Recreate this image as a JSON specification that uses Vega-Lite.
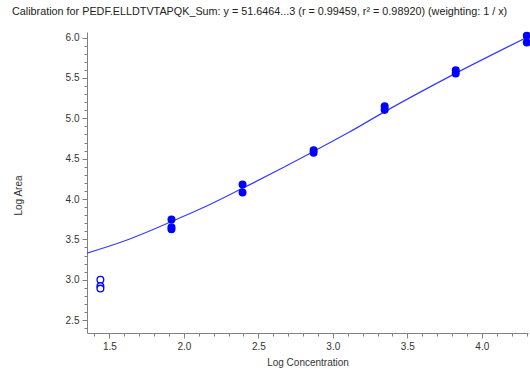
{
  "$schema": "https://vega.github.io/schema/vega-lite/v6.json",
  "width": 441,
  "height": 301,
  "autosize": {"type": "none"},
  "padding": {"left": 87, "top": 32, "right": 2, "bottom": 36},
  "background": "white",
  "config": {
    "view": {"stroke": null},
    "font": "Liberation Sans",
    "axis": {
      "domainColor": "#808080",
      "tickColor": "#808080",
      "labelColor": "#333333",
      "titleColor": "#333333",
      "labelFont": "Liberation Sans",
      "titleFont": "Liberation Sans",
      "labelFontSize": 10,
      "titleFontSize": 10,
      "titleFontWeight": "normal",
      "grid": false,
      "labelOverlap": false,
      "labelFlush": false,
      "tickCount": 1000
    }
  },
  "title": {
    "text": "Calibration for PEDF.ELLDTVTAPQK_Sum: y = 51.6464...3 (r = 0.99459, r² = 0.98920)  (weighting: 1 / x)",
    "anchor": "start",
    "frame": "group",
    "dx": -75,
    "offset": 13,
    "fontSize": 10.8,
    "fontWeight": "normal",
    "font": "Liberation Sans",
    "color": "#222222"
  },
  "datasets": {
    "curve": [
      {"x": 1.35, "y": 3.33},
      {"x": 1.6, "y": 3.48},
      {"x": 1.916, "y": 3.72},
      {"x": 2.12, "y": 3.885},
      {"x": 2.39, "y": 4.13},
      {"x": 2.871, "y": 4.59},
      {"x": 3.111, "y": 4.83},
      {"x": 3.346, "y": 5.08},
      {"x": 3.827, "y": 5.56},
      {"x": 4.31, "y": 6.01}
    ],
    "points": [
      {"x": 1.44, "y": 3.0, "status": "excluded"},
      {"x": 1.44, "y": 2.92, "status": "excluded"},
      {"x": 1.44, "y": 2.89, "status": "excluded"},
      {"x": 1.917, "y": 3.745, "status": "used"},
      {"x": 1.917, "y": 3.65, "status": "used"},
      {"x": 1.917, "y": 3.625, "status": "used"},
      {"x": 2.394, "y": 4.18, "status": "used"},
      {"x": 2.394, "y": 4.08, "status": "used"},
      {"x": 2.871, "y": 4.605, "status": "used"},
      {"x": 2.871, "y": 4.575, "status": "used"},
      {"x": 3.348, "y": 5.15, "status": "used"},
      {"x": 3.348, "y": 5.105, "status": "used"},
      {"x": 3.825, "y": 5.595, "status": "used"},
      {"x": 3.825, "y": 5.555, "status": "used"},
      {"x": 4.302, "y": 6.025, "status": "used"},
      {"x": 4.302, "y": 5.94, "status": "used"}
    ]
  },
  "layer": [
    {
      "data": {"name": "curve"},
      "mark": {"type": "line", "color": "#3a3aff", "strokeWidth": 1.2, "interpolate": "monotone", "clip": true},
      "encoding": {
        "x": {
          "field": "x", "type": "quantitative",
          "scale": {"domain": [1.35, 4.31], "nice": false, "zero": false},
          "axis": {
            "title": "Log Concentration",
            "values": [1.4,1.5,1.6,1.7,1.8,1.9,2.0,2.1,2.2,2.3,2.4,2.5,2.6,2.7,2.8,2.9,3.0,3.1,3.2,3.3,3.4,3.5,3.6,3.7,3.8,3.9,4.0,4.1,4.2,4.3],
            "tickCount": 1000,
            "labelExpr": "abs(datum.value*2 - round(datum.value*2)) < 0.001 ? format(datum.value, '.1f') : ''",
            "tickSize": {"condition": {"test": "abs(datum.value*2 - round(datum.value*2)) < 0.001", "value": 5}, "value": 3},
            "labelPadding": 3,
            "titlePadding": 6
          }
        },
        "y": {
          "field": "y", "type": "quantitative",
          "scale": {"domain": [2.34, 6.07], "nice": false, "zero": false},
          "axis": {
            "title": "Log Area",
            "values": [2.4,2.5,2.6,2.7,2.8,2.9,3.0,3.1,3.2,3.3,3.4,3.5,3.6,3.7,3.8,3.9,4.0,4.1,4.2,4.3,4.4,4.5,4.6,4.7,4.8,4.9,5.0,5.1,5.2,5.3,5.4,5.5,5.6,5.7,5.8,5.9,6.0],
            "tickCount": 1000,
            "labelExpr": "abs(datum.value*2 - round(datum.value*2)) < 0.001 ? format(datum.value, '.1f') : ''",
            "tickSize": {"condition": {"test": "abs(datum.value*2 - round(datum.value*2)) < 0.001", "value": 5}, "value": 3},
            "labelPadding": 3,
            "titleX": -64,
            "titleY": 163
          }
        }
      }
    },
    {
      "data": {"name": "points"},
      "mark": {"type": "point", "shape": "circle", "size": 45, "stroke": "#0000ff", "strokeWidth": 1.3, "opacity": 1},
      "encoding": {
        "x": {"field": "x", "type": "quantitative"},
        "y": {"field": "y", "type": "quantitative"},
        "fill": {
          "field": "status", "type": "nominal",
          "scale": {"domain": ["used", "excluded"], "range": ["#0000ff", "#ffffff"]},
          "legend": null
        },
        "fillOpacity": {"value": 1}
      }
    }
  ]
}
